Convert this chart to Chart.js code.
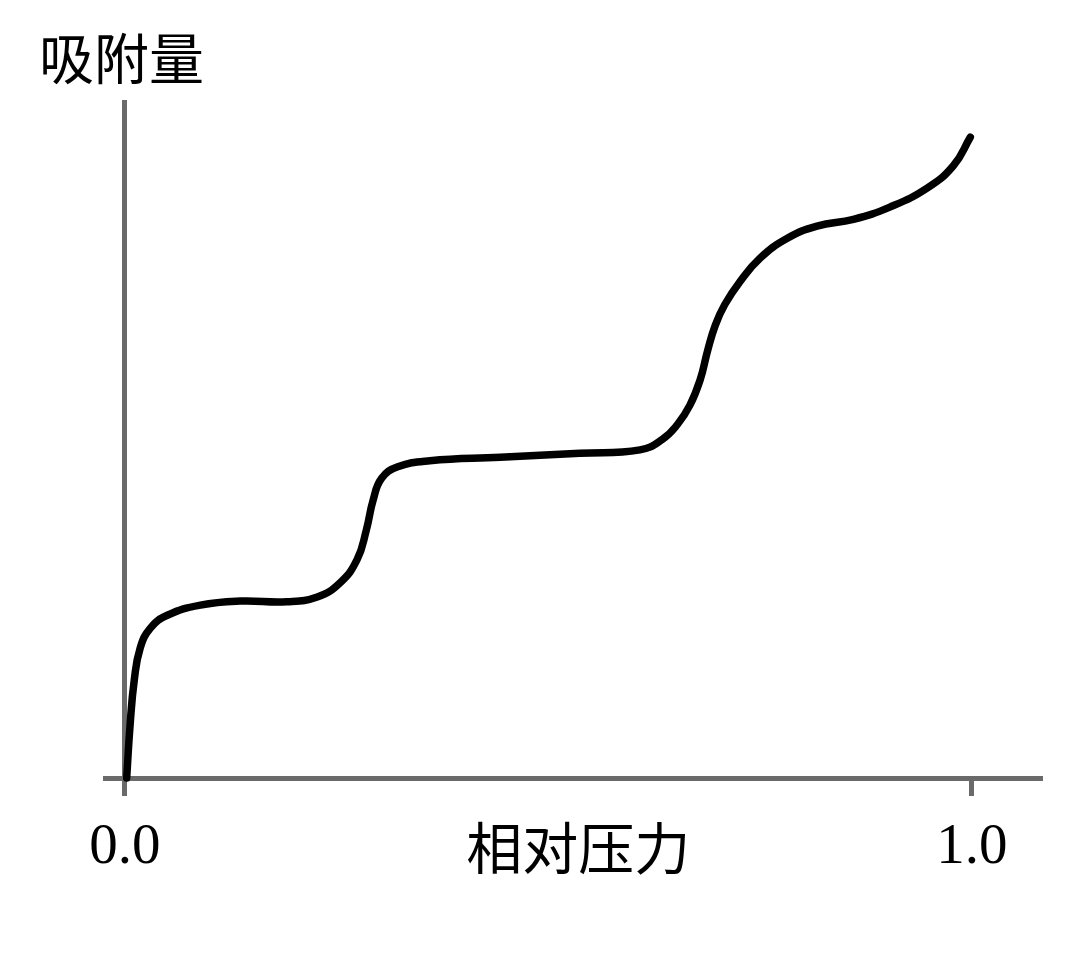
<!DOCTYPE html>
<html>
<head>
<meta charset="utf-8">
<script src="https://cdn.jsdelivr.net/npm/chart.js@4.4.0/dist/chart.umd.min.js"></script>
<style>
    html, body { margin: 0; padding: 0; background: #fff; }
    #wrap { width: 1080px; height: 963px; position: relative; }
</style>
</head>
<body>
<div id="wrap"><canvas id="isotherm"></canvas></div>
<script>
    // --- DATA ---
    const pressure = [0.002, 0.006, 0.011, 0.018, 0.030, 0.050, 0.089, 0.136, 0.191, 0.227,
        0.254, 0.274, 0.285, 0.293, 0.303, 0.322, 0.360, 0.443, 0.537, 0.608,
        0.634, 0.652, 0.667, 0.679, 0.688, 0.697, 0.708, 0.726, 0.750, 0.782,
        0.817, 0.860, 0.903, 0.947, 0.978, 0.998];
    const adsorption = [0.000, 0.078, 0.145, 0.192, 0.221, 0.240, 0.255, 0.261, 0.260, 0.267,
        0.288, 0.322, 0.366, 0.410, 0.442, 0.459, 0.468, 0.473, 0.479, 0.484,
        0.499, 0.521, 0.550, 0.587, 0.631, 0.668, 0.698, 0.732, 0.767, 0.796,
        0.814, 0.824, 0.842, 0.870, 0.903, 0.945];
    const tickValues = [0, 0.535, 1];
    const tickLabels = ['0.0', '相对压力', '1.0'];
    const yTitle = '吸附量';

    const axisGray = '#6a6a6a';
    const serif = '"Liberation Serif", "DejaVu Serif", serif';
    const cjk = '"Noto Sans CJK SC", sans-serif';

    // y axis title drawn top-left
    const yTitlePlugin = {
        id: 'yTitle',
        afterDraw(chart) {
            const ctx = chart.ctx;
            ctx.save();
            ctx.font = '55px ' + cjk;
            ctx.fillStyle = '#000';
            ctx.textBaseline = 'middle';
            ctx.fillText(yTitle, 39, 58);
            ctx.restore();
        }
    };

    const points = pressure.map((p, i) => ({ x: p, y: adsorption[i] }));

    new Chart(document.getElementById('isotherm'), {
        type: 'line',
        data: {
            datasets: [{
                data: points,
                borderColor: '#000',
                borderWidth: 7.5,
                borderCapStyle: 'round',
                borderJoinStyle: 'round',
                pointRadius: 0,
                tension: 0.45,
                fill: false,
                clip: false
            }]
        },
        options: {
            responsive: true,
            maintainAspectRatio: false,
            animation: false,
            layout: { padding: { top: 100, left: 105, right: 40, bottom: 0 } },
            plugins: { legend: { display: false }, tooltip: { enabled: false } },
            scales: {
                x: {
                    type: 'linear',
                    min: -0.0236,
                    max: 1.0803,
                    afterBuildTicks: (scale) => { scale.ticks = tickValues.map(v => ({ value: v })); },
                    afterFit: (scale) => { scale.height = 185; },
                    border: { display: true, color: axisGray, width: 5 },
                    grid: {
                        drawOnChartArea: true,
                        tickLength: 18,
                        lineWidth: 5,
                        color: (c) => (c.tick && c.tick.value === 0) ? axisGray : 'rgba(0,0,0,0)',
                        tickColor: (c) => (c.tick && c.tick.value === 0.535) ? 'rgba(0,0,0,0)' : axisGray,
                        tickWidth: 5
                    },
                    ticks: {
                        autoSkip: false,
                        maxRotation: 0,
                        padding: 18,
                        color: '#000',
                        callback: (value) => tickLabels[tickValues.indexOf(value)],
                        font: (c) => (c.tick && c.tick.value === 0.535)
                            ? { family: cjk, size: 56 }
                            : { family: serif, size: 57 }
                    }
                },
                y: {
                    display: false,
                    min: 0,
                    max: 1
                }
            }
        },
        plugins: [yTitlePlugin]
    });
</script>
</body>
</html>
